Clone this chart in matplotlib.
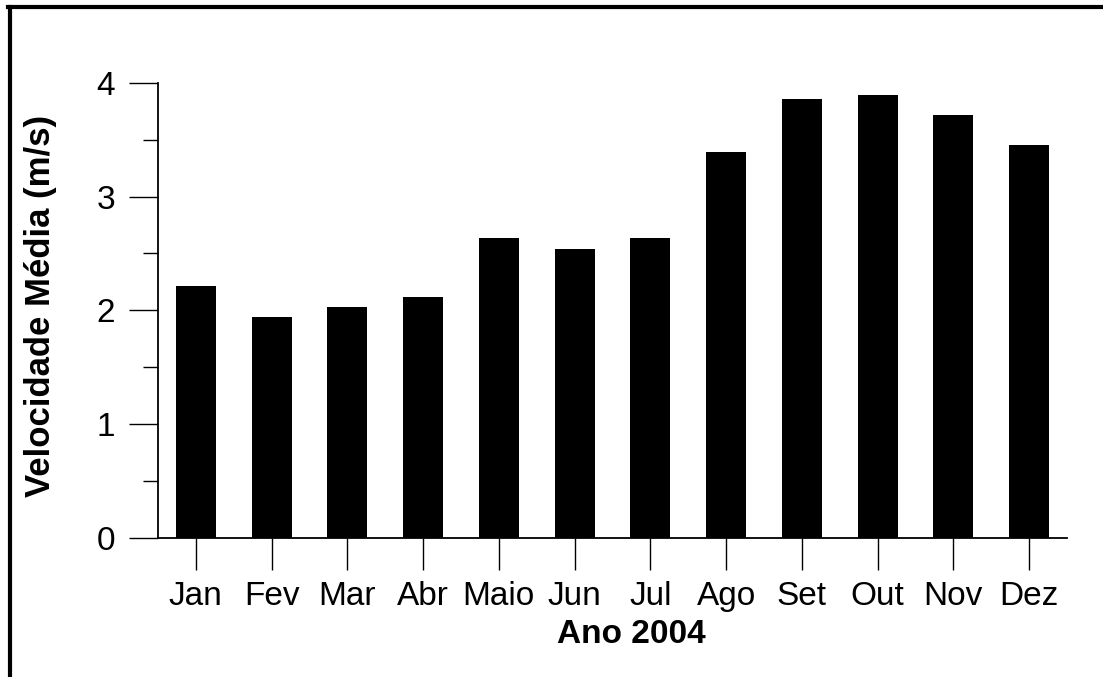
import matplotlib.pyplot as plt
from matplotlib.lines import Line2D
from matplotlib.ticker import MultipleLocator

meses = ["Jan", "Fev", "Mar", "Abr", "Maio", "Jun", "Jul", "Ago", "Set", "Out", "Nov", "Dez"]
velocidade = [2.21, 1.94, 2.03, 2.12, 2.64, 2.54, 2.64, 3.39, 3.86, 3.89, 3.72, 3.45]

plt.rcParams['font.family'] = ['Liberation Sans', 'DejaVu Sans']

fig = plt.figure(figsize=(11.03, 6.77), dpi=100)
ax = fig.add_axes([0.1432, 0.2053, 0.8242, 0.6725])

x = range(len(meses))
ax.bar(x, velocidade, width=0.53, color="black")

ax.set_xlim(-0.5, 11.5)
ax.set_ylim(0, 4)
ax.set_xticks(list(x))
ax.set_xticklabels(meses, fontsize=24)
ax.set_yticks([0, 1, 2, 3, 4])
ax.set_yticklabels(["0", "1", "2", "3", "4"], fontsize=24)
ax.yaxis.set_minor_locator(MultipleLocator(0.5))

for s in ["top", "right"]:
    ax.spines[s].set_visible(False)
for s in ["left", "bottom"]:
    ax.spines[s].set_linewidth(1.3)

ax.tick_params(axis="y", which="major", length=21, width=1, pad=10)
ax.tick_params(axis="y", which="minor", length=11, width=1)
ax.tick_params(axis="x", which="major", length=23, width=1, pad=8)

ax.set_xlabel("Ano 2004", fontsize=24, fontweight="bold")
ax.xaxis.set_label_coords(0.521, -0.178)
ax.set_ylabel("Velocidade Média (m/s)", fontsize=25, fontweight="bold")
ax.yaxis.set_label_coords(-0.111, 0.509)

# moldura (so topo e esquerda aparecem)
fig.add_artist(Line2D([10/1103, 10/1103], [0, 1 - 7/677], color="black", lw=3, transform=fig.transFigure))
fig.add_artist(Line2D([8/1103, 1], [1 - 7/677, 1 - 7/677], color="black", lw=3, transform=fig.transFigure))

plt.savefig("out.png", dpi=100)
